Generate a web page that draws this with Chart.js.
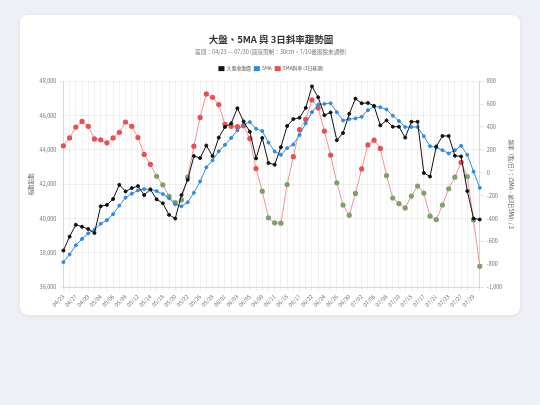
<!DOCTYPE html>
<html lang="zh-Hant">
<head>
<meta charset="utf-8">
<script src="https://cdn.jsdelivr.net/npm/chart.js@4/dist/chart.umd.min.js"></script>
<style>
  html, body { margin: 0; padding: 0; background: #eef0f5; }
  body { width: 540px; height: 405px; position: relative; overflow: hidden;
         font-family: "Noto Sans CJK TC", "Noto Sans", sans-serif; }
  .card { position: absolute; left: 20px; top: 15px; width: 500px; height: 300px;
          background: #fff; border-radius: 8px; box-shadow: 0 1px 4px rgba(0,0,0,0.08); }
  .card canvas { display: block; }
</style>
</head>
<body>
<div class="card"><canvas id="myChart" width="500" height="300"></canvas></div>
<script>
// 交易日
const dates = [
  "04/23","04/24","04/27","04/28","04/29","04/30","05/04","05/05","05/06","05/07",
  "05/08","05/11","05/12","05/13","05/14","05/15","05/18","05/19","05/20","05/21",
  "05/22","05/25","05/26","05/27","05/28","05/29","06/01","06/02","06/03","06/04",
  "06/05","06/08","06/09","06/10","06/11","06/12","06/15","06/16","06/17","06/18",
  "06/22","06/23","06/24","06/25","06/26","06/29","06/30","07/01","07/02","07/03",
  "07/06","07/07","07/08","07/09","07/10","07/13","07/15","07/16","07/17","07/20",
  "07/21","07/22","07/23","07/24","07/27","07/28","07/29","07/30"
];

// 大盤收盤價
const closePrice = [
  38135,38943,39635,39520,39387,39156,40713,40790,41135,41962,
  41577,41770,41885,41366,41693,41116,40887,40212,39999,41366,
  42250,43636,43520,44250,43633,44711,45327,45538,46423,45653,
  45057,43500,44692,43230,43134,44153,45384,45788,45865,46442,
  47692,47057,46019,46173,44557,44980,46096,46981,46711,46730,
  46557,45423,45711,45346,45346,44711,45634,45634,42653,42442,
  44192,44807,44807,43653,43615,41596,40000,39942
];

// 5MA
const ma5 = [
  37460,37904,38442,38808,39135,39347,39693,39904,40250,40750,
  41212,41443,41636,41712,41693,41597,41424,41174,40828,40713,
  40944,41500,42155,42981,43385,43923,44288,44692,45134,45480,
  45615,45230,45096,44423,43904,43711,44096,44308,44865,45538,
  46192,46634,46673,46711,46192,45711,45788,45827,45923,46307,
  46519,46480,46346,45990,45673,45327,45327,45327,44788,44211,
  44134,43980,43788,43980,44230,43711,42730,41788
];

// 5MA斜率 (點/日)
const slope = [
  235,304,399,448,405,295,287,261,304,353,
  443,405,307,160,73,-31,-106,-206,-262,-238,
  -39,232,483,688,659,595,422,405,402,411,
  298,36,-161,-394,-438,-441,-103,140,376,465,
  636,566,364,154,-88,-282,-371,-181,33,243,
  284,212,-25,-221,-270,-308,-204,-117,-178,-380,
  -409,-282,-140,-39,90,-33,-414,-818
];

const legendLabels = ["大盤收盤價", "5MA", "5MA斜率 (3日基期)"];

const cjk = "'Noto Sans CJK TC', 'Noto Sans', sans-serif";
const tickFont = { size: 5.5, family: cjk };
const gridColor = "rgba(0,0,0,0.06)";

const ctx = document.getElementById("myChart").getContext("2d");

const myChart = new Chart(ctx, {
  type: "line",
  data: {
    labels: dates,
    datasets: [
      {
        label: legendLabels[0],
        data: closePrice,
        yAxisID: "y",
        borderColor: "#111111",
        backgroundColor: "#111111",
        borderWidth: 1,
        pointRadius: 1.5,
        pointHoverRadius: 2,
        tension: 0,
        order: 1,
      },
      {
        label: legendLabels[1],
        data: ma5,
        yAxisID: "y",
        borderColor: "#2f8ae0",
        backgroundColor: "#2f8ae0",
        borderWidth: 1,
        pointRadius: 1.5,
        pointHoverRadius: 2,
        tension: 0,
        order: 2,
      },
      {
        label: legendLabels[2],
        data: slope,
        yAxisID: "y1",
        borderColor: "rgba(236,120,120,0.8)",
        backgroundColor: "#ea5050",
        borderWidth: 1,
        pointRadius: 2.6,
        pointHoverRadius: 3,
        pointBorderWidth: 0,
        pointBackgroundColor: (c) => (c.raw >= 0 ? "#ea4f4f" : "#7fa069"),
        tension: 0,
        order: 3,
      },
    ],
  },
  options: {
    responsive: false,
    animation: false,
    layout: { padding: { left: 6, right: 4, top: 7, bottom: 5 } },
    plugins: {
      title: {
        display: true,
        text: "大盤、5MA 與 3日斜率趨勢圖",
        color: "#333",
        font: { size: 9.5, weight: "bold", family: cjk },
        padding: { top: 12, bottom: 3 },
      },
      subtitle: {
        display: true,
        text: "區間：04/23 — 07/30 (圖寬限制：30cm，7/10後風險未調整)",
        color: "#777",
        font: { size: 5.6, family: cjk },
        padding: { bottom: 8 },
      },
      legend: {
        display: true,
        labels: {
          boxWidth: 6,
          boxHeight: 5,
          color: "#555",
          padding: 3,
          font: { size: 4.8, family: cjk },
          generateLabels: (chart) =>
            chart.data.datasets.map((ds, i) => ({
              text: ds.label,
              fillStyle: ds.backgroundColor,
              strokeStyle: ds.backgroundColor,
              lineWidth: 0,
              datasetIndex: i,
              fontColor: "#555",
            })),
        },
      },
    },
    scales: {
      x: {
        grid: { color: gridColor, tickLength: 4 },
        ticks: {
          color: "#777",
          font: tickFont,
          padding: 2,
          autoSkip: false,
          maxRotation: 45,
          minRotation: 45,
          callback: function (value, index) {
            return index % 2 === 0 ? dates[index] : "";
          },
        },
      },
      y: {
        position: "left",
        min: 36000,
        max: 48000,
        grid: { color: gridColor, tickLength: 4 },
        ticks: { stepSize: 2000, color: "#777", font: tickFont, padding: 3 },
        title: { display: true, text: "指數點數", color: "#555", font: { size: 5.5, family: cjk }, padding: 2 },
      },
      y1: {
        position: "right",
        min: -1000,
        max: 800,
        grid: { drawOnChartArea: false, tickLength: 4 },
        ticks: { stepSize: 200, color: "#777", font: tickFont, padding: 3 },
        title: {
          display: true,
          text: "斜率（點/日）：(5MA - 前3日5MA) / 3",
          color: "#555",
          font: { size: 5.5, family: cjk },
          padding: 2,
        },
      },
    },
  },
});
</script>
</body>
</html>
